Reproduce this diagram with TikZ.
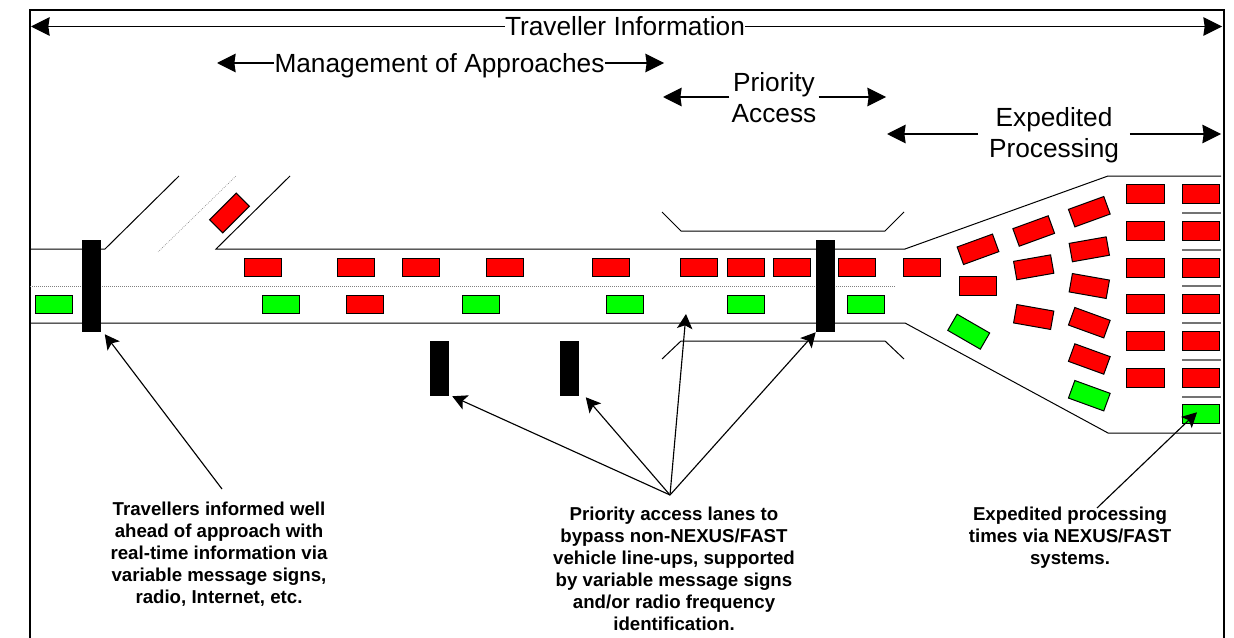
\documentclass[tikz,border=0pt]{standalone}
\usepackage{fontspec}
\setmainfont{Liberation Sans}
\usetikzlibrary{arrows.meta}

\begin{document}
\begin{tikzpicture}[
        x=0.75pt,y=-0.75pt,
        road/.style={black,line width=0.75pt},
        laneline/.style={gray,line width=0.5pt,densely dotted},
        divider/.style={black!55,line width=0.9pt},
        carbody/.style={draw=black,line width=0.75pt,minimum width=28.2pt,minimum height=14pt,inner sep=0pt},
        redcar/.style={carbody,fill=red},
        greencar/.style={carbody,fill=green},
        signpost/.style={fill=black,minimum width=14.25pt,inner sep=0pt},
        spanlabel/.style={inner sep=0pt,font=\fontsize{19.7}{23.2}\selectfont},
        spanarrow/.style={line width=0.9pt,-{Stealth[length=14pt,width=14pt,inset=1pt]}},
        note/.style={inner sep=0pt,anchor=north,align=center,font=\fontsize{14}{16.5}\selectfont\bfseries},
        callout/.style={line width=0.85pt,-{Stealth[length=11pt,width=11.5pt,inset=2.5pt]}}
    ]
        \useasboundingbox (0,0) rectangle (1234,638);
        \draw [black,line width=1.5pt] (29.5,638) -- (29.5,10.5) -- (1223.5,10.5) -- (1223.5,638);

        \draw [road] (30,249) -- (105,249) -- (179,176);
        \draw [road] (290,176) -- (216,249) -- (905,249) -- (1108,176) -- (1221,176);
        \draw [road] (30,323) -- (905,323) -- (1108,433) -- (1221,433);
        \draw [road] (662,212) -- (681,231) -- (885,231) -- (904,212);
        \draw [road] (662,359) -- (681,341) -- (885,341) -- (904,359);
        \draw [laneline] (30,286.5) -- (895,286.5);
        \draw [laneline] (158,252) -- (236,176);
        \draw [divider] (1182,213) -- (1221,213);
        \draw [divider] (1182,250) -- (1221,250);
        \draw [divider] (1182,286) -- (1221,286);
        \draw [divider] (1182,323) -- (1221,323);
        \draw [divider] (1182,360) -- (1221,360);
        \draw [divider] (1182,397) -- (1221,397);

        \node [redcar,rotate=45] (rampCar) at (229.5,213) {};

        \node [redcar] (upperA) at (263,267.5) {};
        \node [redcar] (upperB) at (356,267.5) {};
        \node [redcar] (upperC) at (421,267.5) {};
        \node [redcar] (upperD) at (505,267.5) {};
        \node [redcar] (upperE) at (611,267.5) {};
        \node [redcar] (upperF) at (699,267.5) {};
        \node [redcar] (upperG) at (746,267.5) {};
        \node [redcar] (upperH) at (792,267.5) {};
        \node [redcar] (upperI) at (857,267.5) {};
        \node [redcar] (upperJ) at (922,267.5) {};

        \node [greencar] (lowerA) at (54,304.5) {};
        \node [greencar] (lowerB) at (281,304.5) {};
        \node [redcar] (lowerC) at (365,304.5) {};
        \node [greencar] (lowerD) at (481,304.5) {};
        \node [greencar] (lowerE) at (625,304.5) {};
        \node [greencar] (lowerF) at (746,304.5) {};
        \node [greencar] (lowerG) at (866,304.5) {};

        \node [redcar,rotate=20] (fanA1) at (978,249.3) {};
        \node [redcar] (fanA2) at (978,286) {};
        \node [greencar,rotate=-30] (fanA3) at (968.7,331.7) {};
        \node [redcar,rotate=20] (fanB1) at (1033.7,231) {};
        \node [redcar,rotate=10] (fanB2) at (1033.7,267.3) {};
        \node [redcar,rotate=-10] (fanB3) at (1033.7,317) {};
        \node [redcar,rotate=20] (fanC1) at (1089.3,211.7) {};
        \node [redcar,rotate=10] (fanC2) at (1089.3,249.3) {};
        \node [redcar,rotate=-10] (fanC3) at (1089.3,286) {};
        \node [redcar,rotate=-20] (fanC4) at (1089.3,322.7) {};
        \node [redcar,rotate=-20] (fanC5) at (1089.3,359) {};
        \node [greencar,rotate=-20] (fanC6) at (1089.3,395.7) {};

        \node [redcar] (boothD1) at (1145.3,194.3) {};
        \node [redcar] (boothD2) at (1145.3,231) {};
        \node [redcar] (boothD3) at (1145.3,267.7) {};
        \node [redcar] (boothD4) at (1145.3,304.3) {};
        \node [redcar] (boothD5) at (1145.3,341) {};
        \node [redcar] (boothD6) at (1145.3,377.7) {};
        \node [redcar] (boothE1) at (1201,194.3) {};
        \node [redcar] (boothE2) at (1201,231) {};
        \node [redcar] (boothE3) at (1201,267.7) {};
        \node [redcar] (boothE4) at (1201,304.3) {};
        \node [redcar] (boothE5) at (1201,341) {};
        \node [redcar] (boothE6) at (1201,377.7) {};
        \node [greencar] (boothE7) at (1201,414.3) {};

        \node [signpost,minimum height=69pt] (signA) at (91,286) {};
        \node [signpost,minimum height=69pt] (signB) at (825.5,286) {};
        \node [signpost,minimum height=41.25pt] (signC) at (439.5,368.5) {};
        \node [signpost,minimum height=41.25pt] (signD) at (569.5,368.5) {};

        \node [spanlabel,text height=14pt,text depth=0pt] (travelLabel) at (625,26.5) {Traveller Information};
        \node [spanlabel,text height=14pt,text depth=0pt] (approachLabel) at (439.5,63) {Management of Approaches};
        \node [spanlabel,align=center,inner xsep=1.5pt] (priorityLabel) at (774,98) {Priority\\Access};
        \node [spanlabel,align=center,inner xsep=8pt] (expediteLabel) at (1054,135) {Expedited\\Processing};

        \coordinate (travelLeft) at (31,26.5);
        \coordinate (travelRight) at (1222,26.5);
        \coordinate (approachLeft) at (217,63);
        \coordinate (approachRight) at (664,63);
        \coordinate (priorityLeft) at (663,97);
        \coordinate (priorityRight) at (886,97);
        \coordinate (expediteLeft) at (887,134);
        \coordinate (expediteRight) at (1221,134);

        \draw [spanarrow] (travelLabel.west) -- (travelLeft);
        \draw [spanarrow] (travelLabel.east) -- (travelRight);
        \draw [spanarrow] (approachLabel.west) -- (approachLeft);
        \draw [spanarrow] (approachLabel.east) -- (approachRight);
        \draw [spanarrow] (priorityLabel.west |- priorityLeft) -- (priorityLeft);
        \draw [spanarrow] (priorityLabel.east |- priorityRight) -- (priorityRight);
        \draw [spanarrow] (expediteLabel.west |- expediteLeft) -- (expediteLeft);
        \draw [spanarrow] (expediteLabel.east |- expediteRight) -- (expediteRight);

        \node [note] (noteInfo) at (219,502) {Travellers informed well\\ahead of approach with\\real-time information via\\variable message signs,\\radio, Internet, etc.};
        \node [note] (notePriority) at (674,507) {Priority access lanes to\\bypass non-NEXUS/FAST\\vehicle line-ups, supported\\by variable message signs\\and/or radio frequency\\identification.};
        \node [note] (noteExpedite) at (1070,507) {Expedited processing\\times via NEXUS/FAST\\systems.};

        \coordinate (priorityFan) at ([shift={(-4,-12)}]notePriority.north);
        \coordinate (laneTip) at (686,314);

        \draw [callout] ([shift={(3,-13)}]noteInfo.north) -- ([shift={(4,2)}]signA.south east);
        \draw [callout] (priorityFan) -- ([shift={(3,0)}]signC.south east);
        \draw [callout] (priorityFan) -- ([shift={(6.5,1)}]signD.south east);
        \draw [callout] (priorityFan) -- (laneTip);
        \draw [callout] (priorityFan) -- (signB.south west);
        \draw [callout] ([shift={(27,1)}]noteExpedite.north) -- ([shift={(-4,-2)}]boothE7.center);
\end{tikzpicture}
\end{document}
